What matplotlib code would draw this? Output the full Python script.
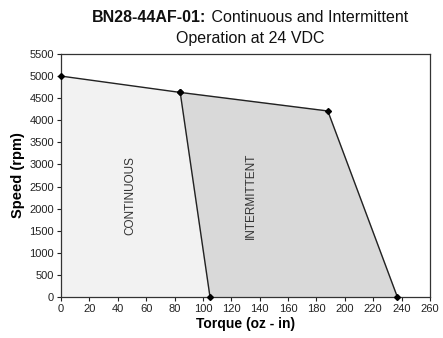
import matplotlib
matplotlib.use("Agg")
import matplotlib.pyplot as plt

plt.rcParams['font.family'] = ['Liberation Sans', 'DejaVu Sans']

# Data
cont_torque = [0, 0, 84, 105]
cont_speed = [0, 5000, 4630, 0]
inter_torque = [84, 188, 237, 105]
inter_speed = [4630, 4210, 0, 0]
curve_torque = [0, 84, 188, 237]
curve_speed = [5000, 4630, 4210, 0]
cont_edge_torque = [84, 105]
cont_edge_speed = [4630, 0]
x_ticks = list(range(0, 261, 20))
y_ticks = list(range(0, 5501, 500))

fig = plt.figure(figsize=(4.43, 3.38), dpi=100)
ax = fig.add_axes([61/443, 1-297/338, 369/443, 243/338])

ax.fill(cont_torque, cont_speed, color='#f2f2f2', zorder=1)
ax.fill(inter_torque, inter_speed, color='#d9d9d9', zorder=1)
ax.plot(curve_torque, curve_speed, color='#222222', lw=1.0, marker='D', ms=3,
        mfc='black', mec='black', zorder=3, clip_on=False)
ax.plot(cont_edge_torque, cont_edge_speed, color='#222222', lw=1.0, marker='D', ms=3,
        mfc='black', mec='black', zorder=3, clip_on=False)

ax.set_xlim(0, 260)
ax.set_ylim(0, 5500)
ax.set_xticks(x_ticks)
ax.set_yticks(y_ticks)
ax.tick_params(labelsize=8, length=3, width=0.8, colors='#222222', pad=2)
for s in ax.spines.values():
    s.set_color('#333333')
    s.set_linewidth(0.9)

ax.set_xlabel('Torque (oz - in)', fontsize=10, fontweight='bold', labelpad=2)
ax.set_ylabel('Speed (rpm)', fontsize=10.5, fontweight='bold', labelpad=3)

ax.text(49, 2300, 'CONTINUOUS', rotation=90, ha='center', va='center', fontsize=8.5, color='#333333')
ax.text(134, 2300, 'INTERMITTENT', rotation=90, ha='center', va='center', fontsize=8.5, color='#333333')

# Title
fig.canvas.draw()
r = fig.canvas.get_renderer()
t1 = fig.text(0, 0, 'BN28-44AF-01:', fontsize=11.5, fontweight='bold', color='#111111')
t2 = fig.text(0, 0, ' Continuous and Intermittent', fontsize=11.5, color='#111111')
w1 = t1.get_window_extent(r).width / 443
w2 = t2.get_window_extent(r).width / 443
cx = 250/443
x0 = cx - (w1 + w2) / 2
ty = 1 - 17/338
t1.set_position((x0, ty)); t1.set_va('center')
t2.set_position((x0 + w1, ty)); t2.set_va('center')
fig.text(cx, 1 - 38/338, 'Operation at 24 VDC', fontsize=11.5, ha='center', va='center', color='#111111')

fig.savefig('out.png', dpi=100)
